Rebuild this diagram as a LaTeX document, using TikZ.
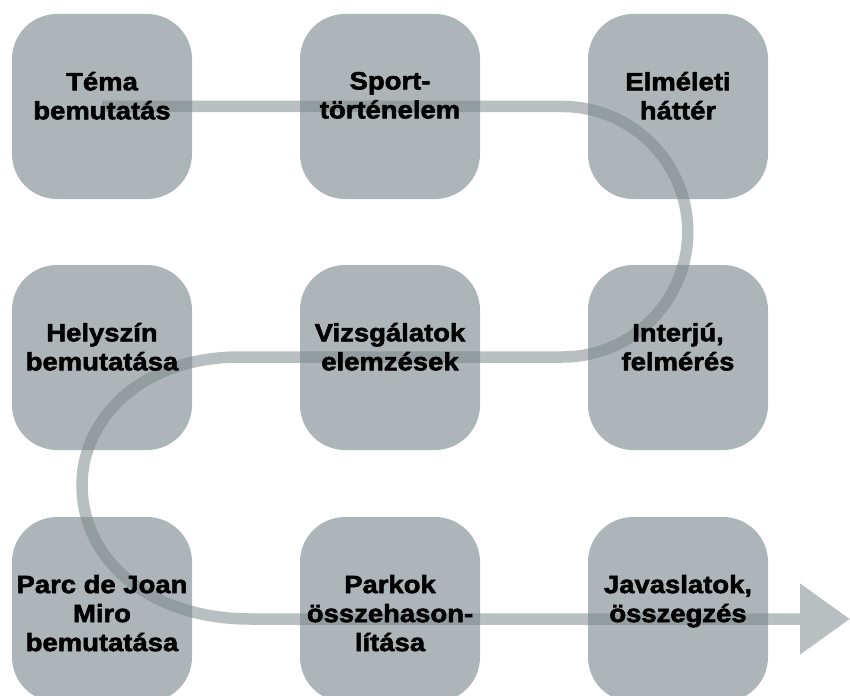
\documentclass[tikz,border=0pt]{standalone}
\usepackage{fontspec}
\newfontfamily\tilefont{Liberation Sans}[FakeStretch=1.1,FakeBold=2.2]
\usetikzlibrary{arrows.meta}
\definecolor{tilegray}{HTML}{ADB5B8}
\definecolor{flowgray}{HTML}{7F8B8E}

\begin{document}
\begin{tikzpicture}[
    tile/.style={fill=tilegray,rounded corners=.9cm,
      minimum width=3.6cm,minimum height=3.7cm,inner sep=0},
    lbl/.style={font=\tilefont\bfseries\fontsize{14.2}{16.5}\selectfont,
      align=center,anchor=north,inner sep=0},
    flow/.style={flowgray,line width=.23cm,
      -{Triangle[length=1cm,width=1.36cm]}}]
  \clip (0,0) rectangle (17,13.9);

  \node[tile] (tema)      at (2.04,11.77) {};
  \node[tile] (sport)     at (7.8,11.77)  {};
  \node[tile] (elmeleti)  at (13.56,11.77) {};
  \node[tile] (helyszin)  at (2.04,6.75)  {};
  \node[tile] (vizsgalat) at (7.8,6.75)   {};
  \node[tile] (interju)   at (13.56,6.75) {};
  \node[tile] (parc)      at (2.04,1.71)  {};
  \node[tile] (parkok)    at (7.8,1.71)   {};
  \node[tile] (javaslat)  at (13.56,1.71) {};

  \coordinate (tip) at (17,1.52);
  \begin{scope}[transparency group,opacity=.55]
    \draw[flow] (tema.center) -- (11.25,11.77)
      arc[start angle=90,end angle=-90,radius=2.505]
      -- (4.8,6.76)
      .. controls (2.8,6.76) and (1.64,5.5) .. (1.64,4.2)
      .. controls (1.64,2.7) and (3,1.52) .. (5,1.52)
      -- (tip);
  \end{scope}

  \node[lbl] at ([yshift=-1.16cm]tema.north) {Téma\\bemutatás};
  \node[lbl] at ([yshift=-1.16cm]sport.north) {Sport-\\történelem};
  \node[lbl] at ([yshift=-1.16cm]elmeleti.north) {Elméleti\\háttér};
  \node[lbl] at ([yshift=-1.16cm]helyszin.north) {Helyszín\\bemutatása};
  \node[lbl] at ([yshift=-1.16cm]vizsgalat.north) {Vizsgálatok\\elemzések};
  \node[lbl] at ([yshift=-1.16cm]interju.north) {Interjú,\\felmérés};
  \node[lbl] at ([yshift=-1.16cm]parc.north) {Parc de Joan\\Miro\\bemutatása};
  \node[lbl] at ([yshift=-1.16cm]parkok.north) {Parkok\\összehason-\\lítása};
  \node[lbl] at ([yshift=-1.16cm]javaslat.north) {Javaslatok,\\összegzés};
\end{tikzpicture}
\end{document}
